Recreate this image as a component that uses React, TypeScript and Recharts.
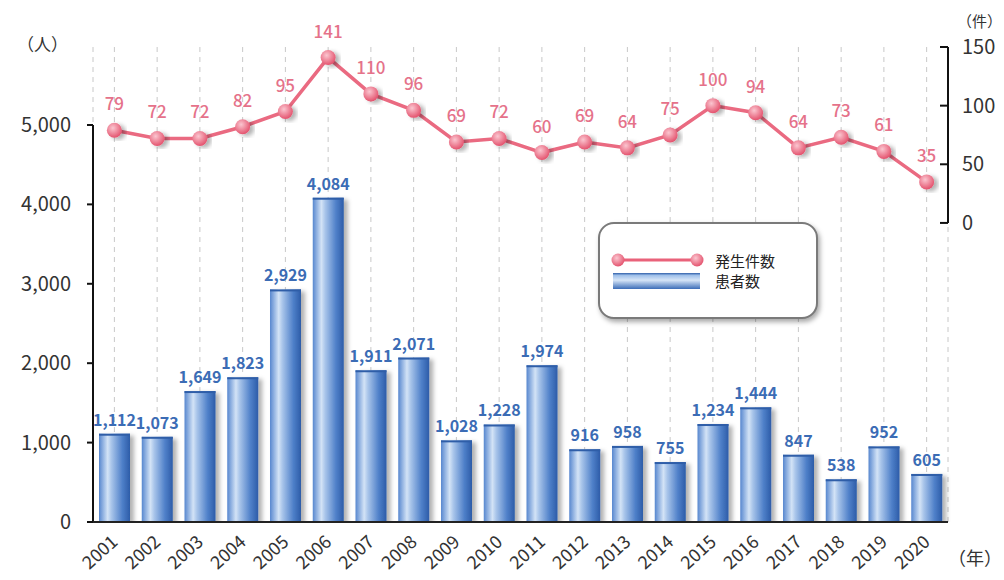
import { ComposedChart, Bar, Line, XAxis, YAxis, CartesianGrid, Legend, LabelList, ReferenceLine } from 'recharts';

const years = ['2001', '2002', '2003', '2004', '2005', '2006', '2007', '2008', '2009', '2010', '2011', '2012', '2013', '2014', '2015', '2016', '2017', '2018', '2019', '2020'];
const patients = [1112, 1073, 1649, 1823, 2929, 4084, 1911, 2071, 1028, 1228, 1974, 916, 958, 755, 1234, 1444, 847, 538, 952, 605];
const incidents = [79, 72, 72, 82, 95, 141, 110, 96, 69, 72, 60, 69, 64, 75, 100, 94, 64, 73, 61, 35];
const leftTicks = [0, 1000, 2000, 3000, 4000, 5000];
const rightTicks = [0, 50, 100, 150];

const data = years.map((year, i) => ({ year, patients: patients[i], incidents: incidents[i] }));

const FONT = '"Noto Sans CJK JP", "Noto Sans", sans-serif';

function GlossBar(props: any) {
  const { x, y, width, height } = props;
  if (!height || height <= 0) return null;
  return (
    <g>
      <rect x={x} y={y} width={width} height={height} fill="url(#barFill)" filter="url(#softShadow)" />
      <rect x={x} y={y} width={width} height={2} fill="#2f5ea8" />
    </g>
  );
}

function PinkDot(props: any) {
  const { cx, cy } = props;
  if (cx == null || cy == null) return null;
  return <circle cx={cx} cy={cy} r={7.5} fill="url(#dotFill)" filter="url(#softShadow)" />;
}

function RightTick(props: any) {
  const { x, y, payload } = props;
  return (
    <g>
      <line x1={x - 8} y1={y} x2={x} y2={y} stroke="#111" strokeWidth={2} />
      <text x={x + 14} y={y} dy={7} fontSize={20} fill="#333" fontFamily={FONT}>
        {payload.value}
      </text>
    </g>
  );
}

function LegendBox() {
  return (
    <div
      style={{
        width: 220,
        height: 97,
        boxSizing: 'border-box',
        border: '2px solid #7a7a7a',
        borderRadius: 16,
        background: '#fff',
        boxShadow: '2px 3px 5px rgba(0,0,0,0.35)',
        position: 'relative',
      }}
    >
      <svg width={220} height={97} style={{ position: 'absolute', left: -2, top: -2 }}>
        <defs>
          <radialGradient id="dotFillLegend" cx="40%" cy="35%" r="65%">
            <stop offset="0%" stopColor="#fbc6d0" />
            <stop offset="100%" stopColor="#e4546f" />
          </radialGradient>
          <linearGradient id="legendBar" x1="0" y1="0" x2="0" y2="1">
            <stop offset="0%" stopColor="#2f5ea8" />
            <stop offset="15%" stopColor="#9fc0ea" />
            <stop offset="45%" stopColor="#d6e5f7" />
            <stop offset="100%" stopColor="#3c6db8" />
          </linearGradient>
        </defs>
        <line x1={20} y1={38} x2={99} y2={38} stroke="#e9627a" strokeWidth={3} />
        <circle cx={20} cy={38} r={6.5} fill="url(#dotFillLegend)" />
        <circle cx={99} cy={38} r={6.5} fill="url(#dotFillLegend)" />
        <rect x={15} y={51} width={87} height={16} fill="url(#legendBar)" />
        <text x={117} y={45} fontSize={15} fill="#222" fontFamily={FONT}>発生件数</text>
        <text x={117} y={65} fontSize={15} fill="#222" fontFamily={FONT}>患者数</text>
      </svg>
    </div>
  );
}

export default function App() {
  return (
    <div style={{ position: 'absolute', left: 0, top: 0, width: 1004, height: 580, background: '#fff', fontFamily: FONT }}>
      <div style={{ position: 'absolute', left: 17, top: 35, fontSize: 17, lineHeight: 1, color: '#333' }}>（人）</div>
      <div style={{ position: 'absolute', left: 957, top: 13, fontSize: 15, lineHeight: 1, color: '#333' }}>（件）</div>
      <div style={{ position: 'absolute', left: 948, top: 548, fontSize: 18, lineHeight: 1, color: '#333' }}>（年）</div>
      <ComposedChart width={1004} height={580} data={data} margin={{ top: 47, right: 0, bottom: 0, left: 0 }}>
        <defs>
          <linearGradient id="barFill" x1="0" y1="0" x2="1" y2="0">
            <stop offset="0%" stopColor="#5787cf" />
            <stop offset="28%" stopColor="#d3e3f6" />
            <stop offset="40%" stopColor="#a9c5ea" />
            <stop offset="75%" stopColor="#4f80c9" />
            <stop offset="100%" stopColor="#2d5ca8" />
          </linearGradient>
          <radialGradient id="dotFill" cx="40%" cy="35%" r="65%">
            <stop offset="0%" stopColor="#fbc6d0" />
            <stop offset="100%" stopColor="#e4546f" />
          </radialGradient>
          <filter id="softShadow" x="-30%" y="-10%" width="160%" height="130%">
            <feDropShadow dx="4" dy="2" stdDeviation="2" floodColor="#000" floodOpacity="0.3" />
          </filter>
        </defs>
        <CartesianGrid horizontal={false} strokeDasharray="5 5" stroke="#c8c8c8" />
        <XAxis
          dataKey="year"
          height={58}
          axisLine={{ stroke: '#222', strokeWidth: 2 }}
          tickLine={false}
          interval={0}
          angle={-42}
          textAnchor="end"
          tick={{ fontSize: 18, fill: '#333', fontFamily: FONT, dy: 4, dx: -4 }}
        />
        <YAxis
          yAxisId="left"
          width={93}
          domain={[0, 5982]}
          allowDataOverflow
          ticks={leftTicks}
          axisLine={false}
          tickLine={{ stroke: '#111', strokeWidth: 2 }}
          tickSize={6}
          tickMargin={16}
          tickFormatter={(v: number) => v.toLocaleString('en-US')}
          tick={{ fontSize: 20, fill: '#333', fontFamily: FONT }}
        />
        <YAxis
          yAxisId="right"
          orientation="right"
          width={56}
          domain={[-255, 150]}
          allowDataOverflow
          ticks={rightTicks}
          axisLine={false}
          tickLine={false}
          tickSize={0}
          tickMargin={0}
          tick={<RightTick />}
        />
        <ReferenceLine
          yAxisId="left"
          segment={[{ x: '2001', y: 0 }, { x: '2001', y: 5000 }]}
          position="start"
          stroke="#111"
          strokeWidth={2}
          ifOverflow="visible"
        />
        <ReferenceLine
          yAxisId="right"
          segment={[{ x: '2020', y: 0 }, { x: '2020', y: 150 }]}
          position="end"
          stroke="#111"
          strokeWidth={2}
          ifOverflow="visible"
        />
        <Bar yAxisId="left" dataKey="patients" name="患者数" barSize={31} shape={<GlossBar />} isAnimationActive={false}>
          <LabelList
            dataKey="patients"
            position="top"
            offset={8}
            formatter={(v: any) => Number(v).toLocaleString('en-US')}
            style={{ fontSize: 16, fill: '#3b6cb5', fontFamily: FONT, fontWeight: 600 }}
          />
        </Bar>
        <Line
          yAxisId="right"
          dataKey="incidents"
          name="発生件数"
          type="linear"
          stroke="#ea6a81"
          strokeWidth={3.5}
          dot={<PinkDot />}
          activeDot={false}
          isAnimationActive={false}
        >
          <LabelList
            dataKey="incidents"
            position="top"
            offset={20}
            style={{ fontSize: 17, fill: '#e5728a', fontFamily: FONT, fontWeight: 500 }}
          />
        </Line>
        <Legend
          layout="vertical"
          align="center"
          verticalAlign="middle"
          content={<LegendBox />}
          wrapperStyle={{ left: 598, top: 222, width: 220, height: 97 }}
        />
      </ComposedChart>
    </div>
  );
}
